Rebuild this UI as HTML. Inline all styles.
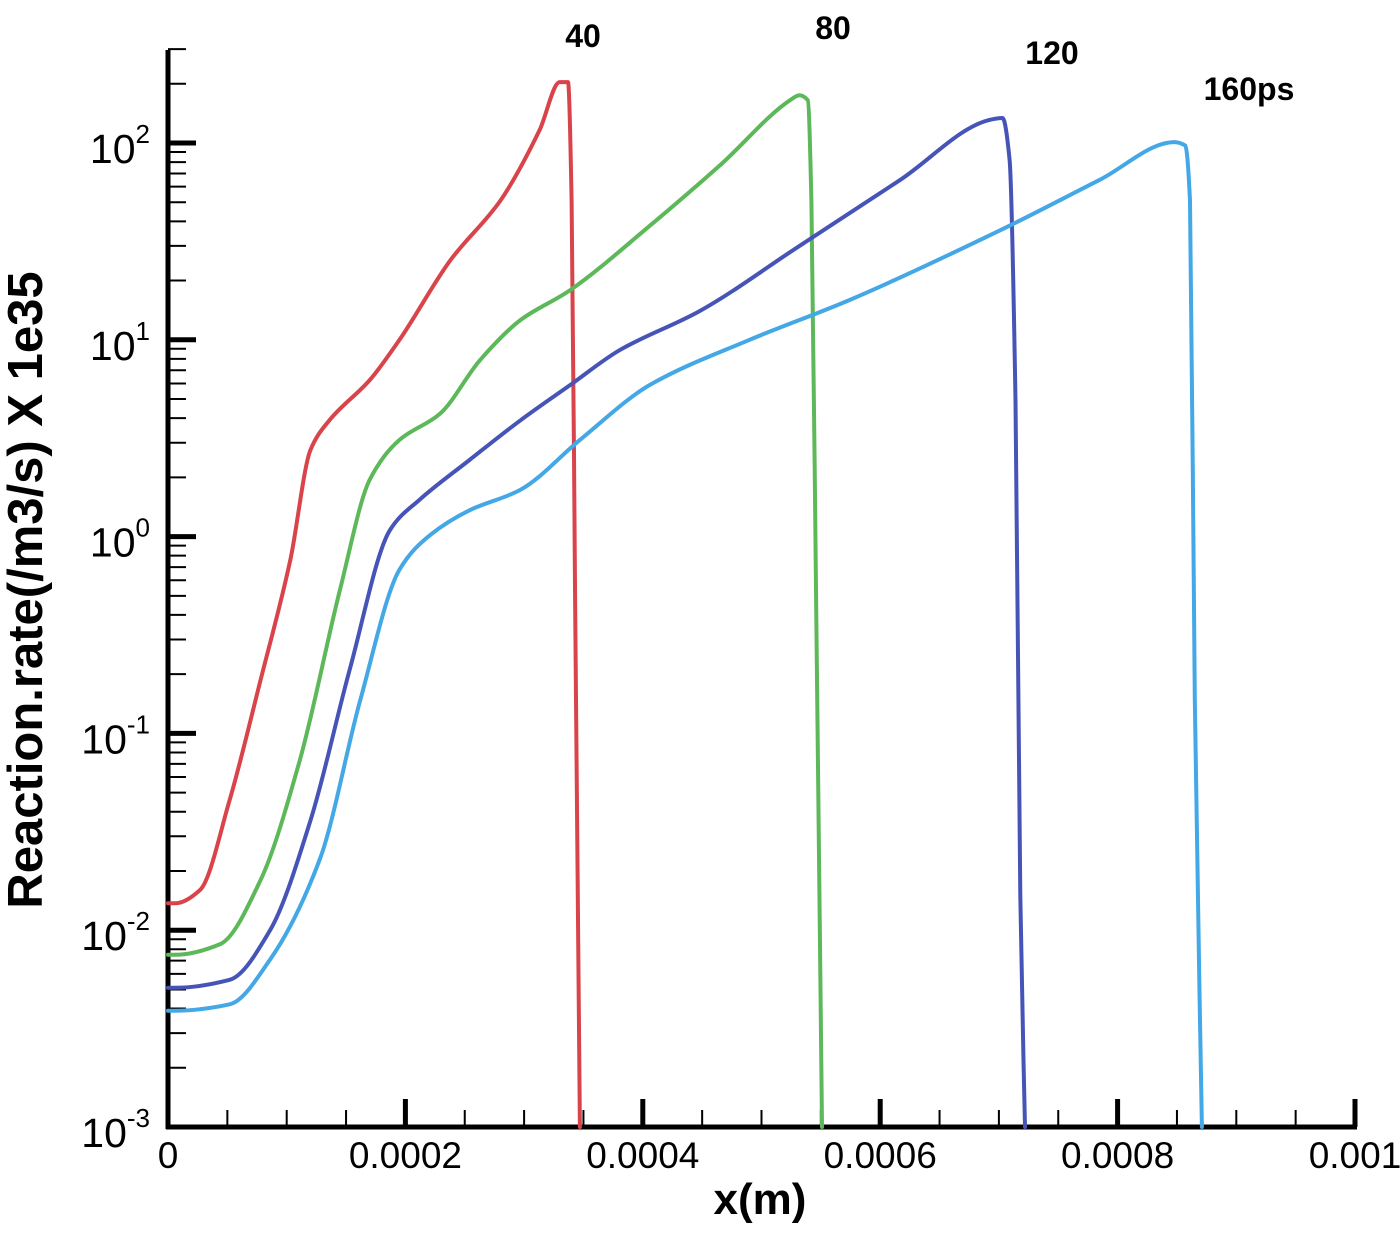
<!DOCTYPE html>
<html><head><meta charset="utf-8"><style>
body{margin:0;background:#fff}
svg text{font-family:"Liberation Sans",sans-serif;fill:#000}
</style></head><body>
<svg id="chart" width="1400" height="1230" viewBox="0 0 1400 1230" xmlns="http://www.w3.org/2000/svg">
<g id="axes"></g>
<g id="series"></g>
<text x="583" y="47" font-size="32" font-weight="bold" text-anchor="middle">40</text>
<text x="833" y="39" font-size="32" font-weight="bold" text-anchor="middle">80</text>
<text x="1052" y="64" font-size="32" font-weight="bold" text-anchor="middle">120</text>
<text x="1249" y="100" font-size="32" font-weight="bold" text-anchor="middle">160ps</text>
<text x="760" y="1214" font-size="44" font-weight="bold" text-anchor="middle">x(m)</text>
<text transform="translate(42,590) rotate(-90)" font-size="49" font-weight="bold" text-anchor="middle">Reaction.rate(/m3/s) X 1e35</text>
</svg>
<script>
// x in units of 1e-4 m
const xTicks=[0,0.0002,0.0004,0.0006,0.0008,0.001];
const xTickLabels=["0","0.0002","0.0004","0.0006","0.0008","0.001"];
const yDecades=[-3,-2,-1,0,1,2];
const seriesNames=["40ps","80ps","120ps","160ps"];
const seriesColors=["#d9434a","#5db85a","#4654b8","#44a7e6"];
const x40=[0,0.06,0.27,0.52,0.78,1.03,1.20,1.36,1.70,1.95,2.38,2.80,3.13,3.30,3.37,3.40,3.43,3.47];
const y40=[0.0137,0.0137,0.016,0.046,0.187,0.76,2.75,3.9,6.25,10,25.4,51,116,204,204,51,0.48,0.001];
const x80=[0,0.06,0.44,0.78,1.11,1.45,1.70,1.95,2.29,2.63,2.97,3.39,4.06,4.65,5.24,5.32,5.39,5.42,5.46,5.51];
const y80=[0.0075,0.0075,0.0085,0.018,0.073,0.54,1.95,3.1,4.2,7.9,12.6,17.9,38,77,165,175,165,51,0.48,0.001];
const x120=[0,0.06,0.52,0.86,1.20,1.53,1.87,2.12,2.54,2.97,3.39,3.81,4.48,5.32,6.17,6.92,7.03,7.09,7.14,7.18,7.22];
const y120=[0.0051,0.0051,0.0056,0.010,0.036,0.21,1.08,1.54,2.45,3.9,5.9,8.9,14,30,65,131,134,82,4.9,0.015,0.001];
const x160=[0,0.06,0.52,0.86,1.28,1.62,1.95,2.21,2.54,2.97,3.47,4.06,4.90,5.75,7.01,7.85,8.48,8.57,8.61,8.65,8.71];
const y160=[0.0039,0.0039,0.0042,0.0071,0.023,0.148,0.68,1.02,1.36,1.73,3.1,5.9,10,16,36,65,101,97,51,0.15,0.001];
const xs=[x40,x80,x120,x160], ys=[y40,y80,y120,y160];

const X0=168,X1=1355,Y0=1127,YD=196.8;
const sx=v=>X0+v*(X1-X0)/0.001;
const sxu=v=>sx(v*1e-4);
const sy=v=>Y0-(Math.log10(Math.max(v,0.001))+3)*YD;
const NS="http://www.w3.org/2000/svg";
function mk(t,a,p){const e=document.createElementNS(NS,t);for(const k in a)e.setAttribute(k,a[k]);p.appendChild(e);return e;}
function monoPath(P){
  const n=P.length, d=[], m=[];
  for(let i=0;i<n-1;i++){const dx=P[i+1][0]-P[i][0];d.push(dx>0?(P[i+1][1]-P[i][1])/dx:0);}
  m[0]=d[0]; m[n-1]=d[n-2];
  for(let i=1;i<n-1;i++){ m[i]=(d[i-1]*d[i]<=0)?0:2/(1/d[i-1]+1/d[i]); }
  let s='M'+P[0][0].toFixed(1)+','+P[0][1].toFixed(1);
  for(let i=0;i<n-1;i++){
    const h=(P[i+1][0]-P[i][0])/3;
    s+=' C'+(P[i][0]+h).toFixed(1)+','+(P[i][1]+m[i]*h).toFixed(1)+' '+(P[i+1][0]-h).toFixed(1)+','+(P[i+1][1]-m[i+1]*h).toFixed(1)+' '+P[i+1][0].toFixed(1)+','+P[i+1][1].toFixed(1);
  }
  return s;
}
const ax=document.getElementById('axes'), sg=document.getElementById('series');
xs.forEach((xa,i)=>{
  const P=xa.map((x,j)=>[sxu(x),sy(ys[i][j])]);
  const p=mk('path',{d:monoPath(P),fill:'none',stroke:seriesColors[i],'stroke-width':4,'stroke-linejoin':'round','stroke-linecap':'round'},sg);
  
  
});
const yl=mk('line',{x1:X0,y1:50,x2:X0,y2:Y0+2,stroke:'#000','stroke-width':5},ax);


const xl=mk('line',{x1:X0-2,y1:Y0,x2:X1+2,y2:Y0,stroke:'#000','stroke-width':5},ax);


for(let k=1;k<=20;k++){
  const v=k*0.00005, px=sx(v), major=k%4===0;
  const t=mk('line',{x1:px,y1:Y0,x2:px,y2:Y0-(major?28:17),stroke:'#000','stroke-width':major?5:2},ax);
  
  
}
xTicks.forEach((v,i)=>{
  const t=mk('text',{x:sx(v),y:1168,'font-size':37,'text-anchor':'middle'},ax);
  t.textContent=xTickLabels[i];
  
  
});
yDecades.forEach(d=>{
  const py=sy(Math.pow(10,d));
  const t=mk('line',{x1:X0,y1:py,x2:X0+28,y2:py,stroke:'#000','stroke-width':5},ax);
  
  
  for(let m=2;m<=9;m++){
    const v=m*Math.pow(10,d); if(v>300) break;
    const q=sy(v);
    const mt=mk('line',{x1:X0,y1:q,x2:X0+18,y2:q,stroke:'#000','stroke-width':2},ax);
    
    
  }
  const lb=mk('text',{x:150,y:py+20,'font-size':41,'text-anchor':'end'},ax);
  lb.textContent='10';
  const sup=mk('tspan',{dy:-20,'font-size':26},lb);
  sup.textContent=String(d);
  
  
});
</script>
</body></html>
